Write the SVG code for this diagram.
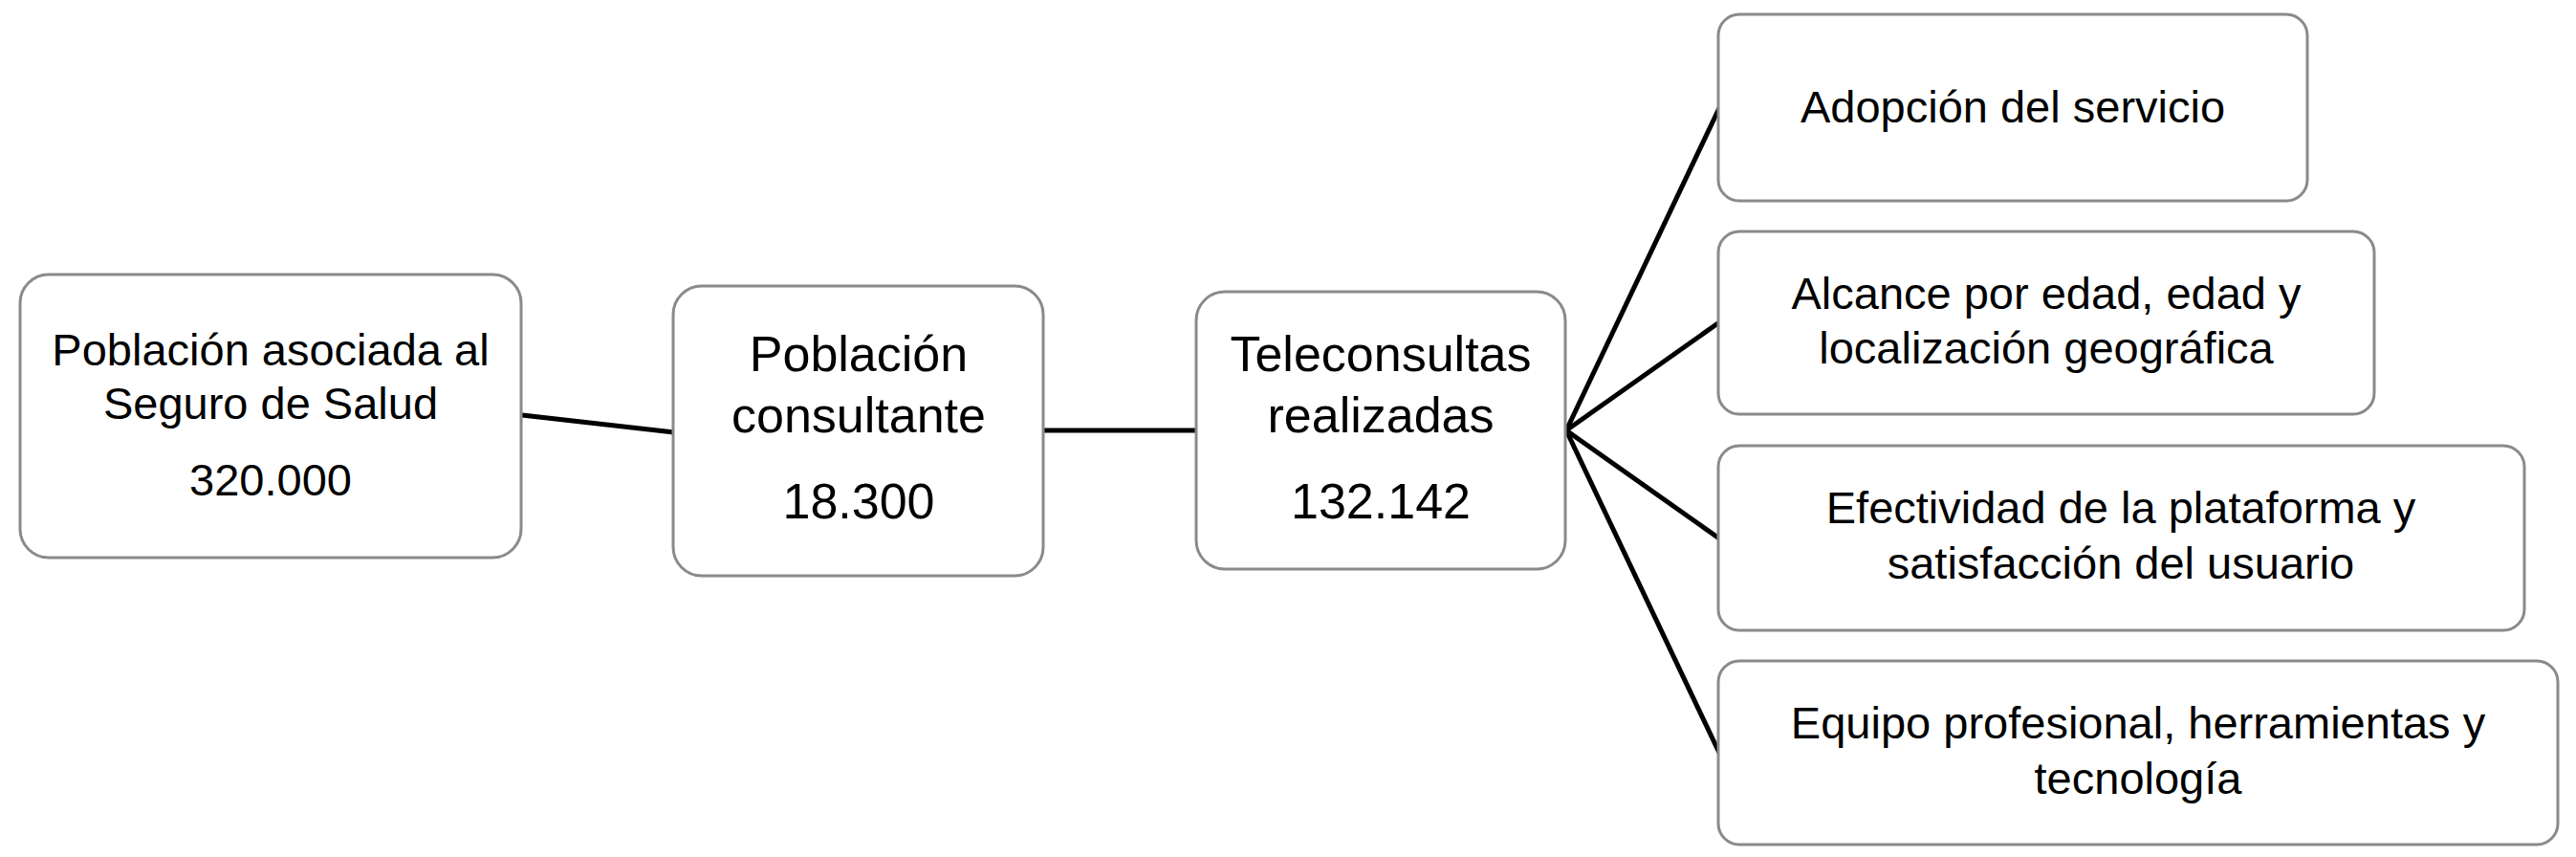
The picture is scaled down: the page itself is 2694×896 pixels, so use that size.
<svg xmlns="http://www.w3.org/2000/svg" width="2694" height="896" viewBox="0 0 2694 896">
<style>
  .box { fill: #ffffff; stroke: #8a8a8a; stroke-width: 3; }
  .t { font-family: "Liberation Sans", Arial, sans-serif; fill: #000000; text-anchor: middle; }
  .s47 { font-size: 47px; }
  .s52 { font-size: 52px; }
  .conn { stroke: #000000; stroke-width: 5; fill: none; stroke-linecap: butt; }
</style>
<rect width="2694" height="896" fill="#ffffff"/>
<g id="connectors">
  <line class="conn" x1="546" y1="434" x2="705" y2="452"/>
  <line class="conn" x1="1091" y1="450" x2="1252" y2="450"/>
  <line class="conn" x1="1638" y1="450" x2="1798" y2="113"/>
  <line class="conn" x1="1638" y1="450" x2="1798" y2="337"/>
  <line class="conn" x1="1638" y1="450" x2="1798" y2="563"/>
  <line class="conn" x1="1638" y1="450" x2="1798" y2="787"/>
</g>
<g id="node-poblacion-asociada">
  <rect class="box" x="21" y="287" width="524" height="296" rx="30" ry="30"/>
  <text class="t s47" x="283" y="382">Población asociada al</text>
  <text class="t s47" x="283" y="438">Seguro de Salud</text>
  <text class="t s47" x="283" y="518">320.000</text>
</g>
<g id="node-poblacion-consultante">
  <rect class="box" x="704" y="299" width="387" height="303" rx="30" ry="30"/>
  <text class="t s52" x="898" y="388">Población</text>
  <text class="t s52" x="898" y="452">consultante</text>
  <text class="t s52" x="898" y="542">18.300</text>
</g>
<g id="node-teleconsultas">
  <rect class="box" x="1251" y="305" width="386" height="290" rx="30" ry="30"/>
  <text class="t s52" x="1444" y="388">Teleconsultas</text>
  <text class="t s52" x="1444" y="452">realizadas</text>
  <text class="t s52" x="1444" y="542">132.142</text>
</g>
<g id="node-adopcion">
  <rect class="box" x="1797" y="15" width="616" height="195" rx="22" ry="22"/>
  <text class="t s47" x="2105" y="128">Adopción del servicio</text>
</g>
<g id="node-alcance">
  <rect class="box" x="1797" y="242" width="686" height="191" rx="22" ry="22"/>
  <text class="t s47" x="2140" y="323">Alcance por edad, edad y</text>
  <text class="t s47" x="2140" y="380">localización geográfica</text>
</g>
<g id="node-efectividad">
  <rect class="box" x="1797" y="466" width="843" height="193" rx="22" ry="22"/>
  <text class="t s47" x="2218" y="547">Efectividad de la plataforma y</text>
  <text class="t s47" x="2218" y="605">satisfacción del usuario</text>
</g>
<g id="node-equipo">
  <rect class="box" x="1797" y="691" width="878" height="192" rx="22" ry="22"/>
  <text class="t s47" x="2236" y="772">Equipo profesional, herramientas y</text>
  <text class="t s47" x="2236" y="830">tecnología</text>
</g>
</svg>
